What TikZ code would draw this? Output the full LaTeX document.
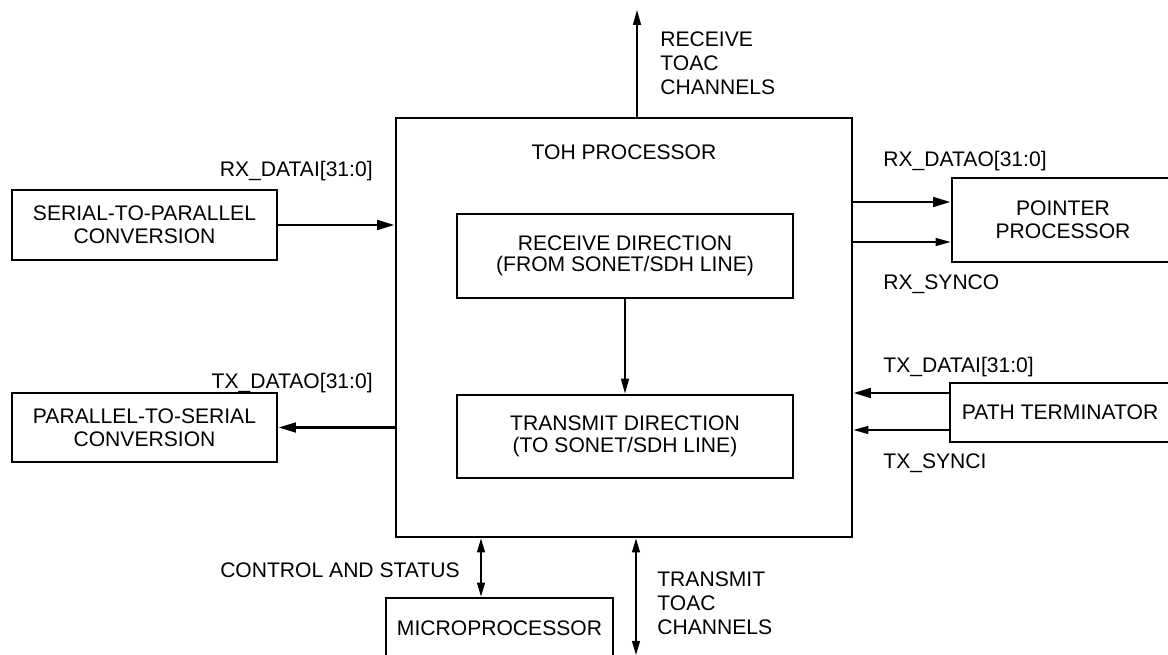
\documentclass[tikz,border=0pt]{standalone}
\usepackage{fontspec}
\setmainfont{Liberation Sans}
\usetikzlibrary{arrows.meta}

\begin{document}
\begin{tikzpicture}[x=0.2mm,y=-0.2mm,
  blok/.style={draw,line width=1.6pt,align=center,inner sep=0pt,font=\fontsize{12}{13.3}\selectfont},
  lbl/.style={inner sep=0pt,align=left,font=\fontsize{12}{13.8}\selectfont},
  bus/.style={line width=1.6pt,-{Triangle[length=10pt,width=5.5pt]}},
  sig/.style={line width=0.9pt,-{Triangle[length=8.5pt,width=4.5pt]}},
  both/.style={line width=0.9pt,{Triangle[length=8pt,width=4.5pt]}-{Triangle[length=8pt,width=4.5pt]}}]

\useasboundingbox (0,0) rectangle (1168,655);
\clip (0,0) rectangle (1168,655);

% main block
\node[blok,minimum width=9.12cm,minimum height=8.38cm] (toh) at (624,327.5) {};
\node[lbl,anchor=base] (tohname) at (624,160) {TOH PROCESSOR};
\node[blok,font=\fontsize{12}{12.3}\selectfont,minimum width=6.72cm,minimum height=1.68cm] (rx) at (625,256) {RECEIVE DIRECTION\\(FROM SONET/SDH LINE)};
\node[blok,font=\fontsize{12}{12.3}\selectfont,minimum width=6.72cm,minimum height=1.66cm] (tx) at (625,436.5) {TRANSMIT DIRECTION\\(TO SONET/SDH LINE)};

% outer blocks
\node[blok,minimum width=5.3cm,minimum height=1.4cm] (s2p) at (144.5,225) {SERIAL-TO-PARALLEL\\CONVERSION};
\node[blok,minimum width=5.3cm,minimum height=1.38cm] (p2s) at (144.5,427.5) {PARALLEL-TO-SERIAL\\CONVERSION};
\node[blok,minimum width=4.44cm,minimum height=1.68cm] (ptr) at (1063,220) {POINTER\\PROCESSOR};
\node[blok,minimum width=4.4cm,minimum height=1.18cm] (path) at (1060,412.5) {PATH TERMINATOR};
\node[blok,minimum width=4.54cm,minimum height=1.2cm] (mpu) at (499.5,628) {MICROPROCESSOR};

% connectors
\draw[sig] (rx) -- (tx);
\draw[bus] (s2p.east) -- (s2p.east -| toh.west);
\draw[bus] (p2s.east -| toh.west) -- (p2s.east);

\coordinate (rxd) at ([yshift=3.6mm]ptr.west);
\coordinate (rxs) at ([yshift=-4.4mm]ptr.west);
\draw[bus] (rxd -| toh.east) -- (rxd);
\draw[sig] (rxs -| toh.east) -- (rxs);

\coordinate (txd) at ([yshift=3.9mm]path.west);
\coordinate (txs) at ([yshift=-3.5mm]path.west);
\draw[bus] (txd) -- (txd -| toh.east);
\draw[sig] (txs) -- (txs -| toh.east);

\coordinate (rtoac) at (637,10);
\draw[sig] (rtoac |- toh.north) -- (rtoac);
\coordinate (ttoac) at (636,655);
\draw[both] (ttoac |- toh.south) -- (ttoac);
\coordinate (ctl) at (481,568);
\draw[both] (ctl |- toh.south) -- (ctl |- mpu.north);

% signal names
\node[lbl,anchor=base east] (rxdi) at (373,177) {RX\_DATAI[31:0]};
\node[lbl,anchor=base east] (txdo) at (373,388) {TX\_DATAO[31:0]};
\node[lbl,anchor=base west] (rxdo) at (883,167) {RX\_DATAO[31:0]};
\node[lbl,anchor=base west] (rxso) at (883,290) {RX\_SYNCO};
\node[lbl,anchor=base west] (txdi) at (883,372) {TX\_DATAI[31:0]};
\node[lbl,anchor=base west] (txsi) at (883,468) {TX\_SYNCI};
\node[lbl,anchor=base east] (ctlname) at (460,577) {CONTROL AND STATUS};
\node[lbl,anchor=north west] (rtoacname) at (660,31) {RECEIVE\\TOAC\\CHANNELS};
\node[lbl,anchor=north west] (ttoacname) at (657,571) {TRANSMIT\\TOAC\\CHANNELS};

\end{tikzpicture}
\end{document}
